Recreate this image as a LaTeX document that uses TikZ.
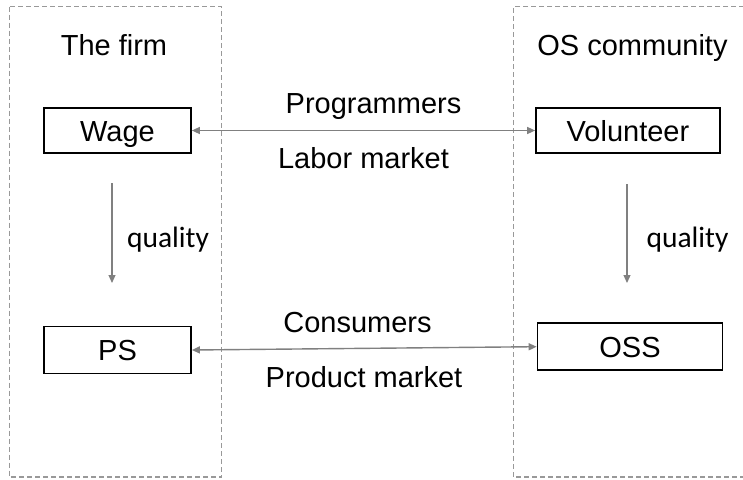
\documentclass[tikz,border=0pt]{standalone}
\usepackage{fontspec}
\setmainfont{Liberation Sans}
\newfontfamily\calibrifont{Carlito}
\usetikzlibrary{arrows.meta}
\tikzset{
  sidebox/.style   = {draw=black!40, line width=1.4pt, dash pattern=on 5pt off 3pt},
  agentbox/.style  = {rectangle, draw=black, line width=1.7pt, fill=white,
                      font=\fontsize{29}{33}\selectfont, inner sep=0pt,
                      text height=21pt, text depth=0pt},
  sidetitle/.style = {font=\fontsize{29}{33}\selectfont, anchor=base, inner sep=0pt},
  mktlbl/.style    = {font=\fontsize{29}{33}\selectfont, anchor=base, inner sep=0pt},
  qlbl/.style      = {font=\calibrifont\fontsize{29.5}{33}\selectfont, anchor=base, inner sep=0pt},
  mktflow/.style   = {{Triangle[length=8pt,width=7pt]}-{Triangle[length=8pt,width=7pt]},
                      draw=black!50, line width=1.4pt},
  qflow/.style     = {-{Triangle[length=8pt,width=7pt]}, draw=black!50, line width=1.2pt},
}

\begin{document}
\begin{tikzpicture}[x=1pt, y=-1pt]
  \useasboundingbox (0,0) rectangle (743,479);

  % the two sides
  \draw[sidebox] (9.3,6.7) rectangle (221.7,477);
  \draw[sidebox] (760,6.7) -| (513.3,477) -- (760,477);

  \node[sidetitle] (firm) at (114,55)   {The firm};
  \node[sidetitle] (osc)  at (632.5,55) {OS community};

  \node[agentbox, minimum width=147pt, minimum height=45pt] (wage) at (117.5,130.5) {Wage};
  \node[agentbox, minimum width=184pt, minimum height=45pt] (vol)  at (628,130.5)   {Volunteer};
  \node[agentbox, minimum width=147pt, minimum height=47pt] (ps)   at (117.5,350)   {PS};
  \node[agentbox, minimum width=185pt, minimum height=47pt] (oss)  at (630,346.7)   {OSS};

  % markets between the firm and the community
  \draw[mktflow] (wage.east) -- (vol.west);
  \draw[mktflow] (ps.east) -- (oss.west);
  \node[mktlbl] (prog) at (373.5,113) {Programmers};
  \node[mktlbl] (lab)  at (363.5,168) {Labor market};
  \node[mktlbl] (cons) at (357.5,332) {Consumers};
  \node[mktlbl] (prod) at (364,387)   {Product market};

  % quality links inside each side
  \coordinate (fq1) at (112,183);
  \coordinate (fq2) at (112,283);
  \coordinate (cq1) at (627,184);
  \coordinate (cq2) at (627,283);
  \draw[qflow] (fq1) -- (fq2);
  \draw[qflow] (cq1) -- (cq2);
  \node[qlbl] (fql) at (168,247)   {quality};
  \node[qlbl] (cql) at (687.5,247) {quality};
\end{tikzpicture}
\end{document}
